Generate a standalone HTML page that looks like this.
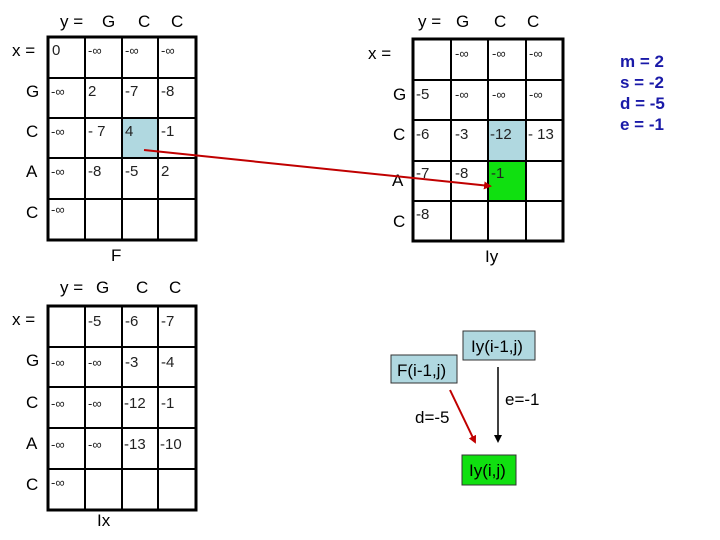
<!DOCTYPE html>
<html><head><meta charset="utf-8"><style>
html,body{margin:0;padding:0;background:#fff;}
svg{display:block;}
text{font-family:"Liberation Sans",sans-serif;}
.h{font-size:17px;fill:#000;}
.c{font-size:15px;fill:#222;}
.i{font-size:13px;fill:#222;}
.b{font-size:17px;font-weight:bold;fill:#1a1aa8;}
</style></head><body>
<svg width="720" height="540" viewBox="0 0 720 540" xmlns="http://www.w3.org/2000/svg">
<defs>
<marker id="ar" markerWidth="8" markerHeight="8" refX="6" refY="4" orient="auto" markerUnits="userSpaceOnUse"><path d="M0,0 L8,4 L0,8 z" fill="#c00000"/></marker>
<marker id="ab" markerWidth="8" markerHeight="8" refX="6" refY="4" orient="auto" markerUnits="userSpaceOnUse"><path d="M0,0 L8,4 L0,8 z" fill="#000"/></marker>
</defs>

<!-- Grid 1 (F) -->
<rect x="122" y="118" width="36" height="40" fill="#b0d8e0"/>
<g stroke="#000" stroke-width="2" fill="none">
<rect x="48" y="37" width="148" height="203" stroke-width="3"/>
<line x1="85" y1="37" x2="85" y2="240"/><line x1="122" y1="37" x2="122" y2="240"/><line x1="158" y1="37" x2="158" y2="240"/>
<line x1="48" y1="78" x2="196" y2="78"/><line x1="48" y1="118" x2="196" y2="118"/><line x1="48" y1="158" x2="196" y2="158"/><line x1="48" y1="199" x2="196" y2="199"/>
</g>
<text class="h" x="60" y="27">y =</text><text class="h" x="102" y="27">G</text><text class="h" x="138" y="27">C</text><text class="h" x="171" y="27">C</text>
<text class="h" x="12" y="56">x =</text>
<text class="h" x="26" y="97">G</text><text class="h" x="26" y="137">C</text><text class="h" x="26" y="177">A</text><text class="h" x="26" y="218">C</text>
<text class="c" x="52" y="55">0</text><text class="i" x="88" y="55">-∞</text><text class="i" x="125" y="55">-∞</text><text class="i" x="161" y="55">-∞</text>
<text class="i" x="51" y="96">-∞</text><text class="c" x="88" y="96">2</text><text class="c" x="125" y="96">-7</text><text class="c" x="161" y="96">-8</text>
<text class="i" x="51" y="136">-∞</text><text class="c" x="88" y="136">- 7</text><text class="c" x="125" y="136">4</text><text class="c" x="161" y="136">-1</text>
<text class="i" x="51" y="176">-∞</text><text class="c" x="88" y="176">-8</text><text class="c" x="125" y="176">-5</text><text class="c" x="161" y="176">2</text>
<text class="i" x="51" y="214">-∞</text>
<text class="h" x="111" y="261">F</text>

<!-- Grid 2 (Iy) -->
<rect x="488" y="120" width="38" height="41" fill="#b0d8e0"/>
<rect x="488" y="161" width="38" height="40" fill="#10e010"/>
<g stroke="#000" stroke-width="2" fill="none">
<rect x="413" y="39" width="150" height="202" stroke-width="3"/>
<line x1="451" y1="39" x2="451" y2="241"/><line x1="488" y1="39" x2="488" y2="241"/><line x1="526" y1="39" x2="526" y2="241"/>
<line x1="413" y1="80" x2="563" y2="80"/><line x1="413" y1="120" x2="563" y2="120"/><line x1="413" y1="161" x2="563" y2="161"/><line x1="413" y1="201" x2="563" y2="201"/>
</g>
<text class="h" x="418" y="27">y =</text><text class="h" x="456" y="27">G</text><text class="h" x="494" y="27">C</text><text class="h" x="527" y="27">C</text>
<text class="h" x="368" y="59">x =</text>
<text class="h" x="393" y="100">G</text><text class="h" x="393" y="140">C</text><text class="h" x="392" y="186">A</text><text class="h" x="393" y="227">C</text>
<text class="i" x="455" y="58">-∞</text><text class="i" x="492" y="58">-∞</text><text class="i" x="529" y="58">-∞</text>
<text class="c" x="416" y="99">-5</text><text class="i" x="455" y="99">-∞</text><text class="i" x="492" y="99">-∞</text><text class="i" x="529" y="99">-∞</text>
<text class="c" x="416" y="139">-6</text><text class="c" x="455" y="139">-3</text><text class="c" x="490" y="139">-12</text><text class="c" x="528" y="139">- 13</text>
<text class="c" x="416" y="178">-7</text><text class="c" x="455" y="178">-8</text><text class="c" x="491" y="178">-1</text>
<text class="c" x="416" y="219">-8</text>
<text class="h" x="485" y="262">Iy</text>

<!-- Grid 3 (Ix) -->
<g stroke="#000" stroke-width="2" fill="none">
<rect x="48" y="306" width="148" height="204" stroke-width="3"/>
<line x1="85" y1="306" x2="85" y2="510"/><line x1="122" y1="306" x2="122" y2="510"/><line x1="158" y1="306" x2="158" y2="510"/>
<line x1="48" y1="347" x2="196" y2="347"/><line x1="48" y1="387" x2="196" y2="387"/><line x1="48" y1="428" x2="196" y2="428"/><line x1="48" y1="469" x2="196" y2="469"/>
</g>
<text class="h" x="60" y="293">y =</text><text class="h" x="96" y="293">G</text><text class="h" x="136" y="293">C</text><text class="h" x="169" y="293">C</text>
<text class="h" x="12" y="325">x =</text>
<text class="h" x="26" y="366">G</text><text class="h" x="26" y="408">C</text><text class="h" x="26" y="449">A</text><text class="h" x="26" y="490">C</text>
<text class="c" x="88" y="326">-5</text><text class="c" x="125" y="326">-6</text><text class="c" x="161" y="326">-7</text>
<text class="i" x="51" y="367">-∞</text><text class="i" x="88" y="367">-∞</text><text class="c" x="125" y="367">-3</text><text class="c" x="161" y="367">-4</text>
<text class="i" x="51" y="408">-∞</text><text class="i" x="88" y="408">-∞</text><text class="c" x="124" y="408">-12</text><text class="c" x="161" y="408">-1</text>
<text class="i" x="51" y="449">-∞</text><text class="i" x="88" y="449">-∞</text><text class="c" x="124" y="449">-13</text><text class="c" x="160" y="449">-10</text>
<text class="i" x="51" y="487">-∞</text>
<text class="h" x="97" y="526">Ix</text>

<!-- Long red arrow -->
<line x1="144" y1="150" x2="490" y2="186" stroke="#c00000" stroke-width="2" marker-end="url(#ar)"/>

<!-- Recurrence diagram -->
<rect x="463" y="331" width="72" height="29" fill="#b0d8e0" stroke="#333" stroke-width="1"/>
<text class="h" x="471" y="352">Iy(i-1,j)</text>
<rect x="391" y="355" width="66" height="28" fill="#b0d8e0" stroke="#333" stroke-width="1"/>
<text class="h" x="397" y="376">F(i-1,j)</text>
<rect x="462" y="455" width="54" height="30" fill="#10e010" stroke="#333" stroke-width="1"/>
<text class="h" x="469" y="476">Iy(i,j)</text>
<line x1="450" y1="390" x2="475" y2="442" stroke="#c00000" stroke-width="2" marker-end="url(#ar)"/>
<line x1="498" y1="367" x2="498" y2="441" stroke="#000" stroke-width="1.5" marker-end="url(#ab)"/>
<text class="h" x="415" y="423">d=-5</text>
<text class="h" x="505" y="405">e=-1</text>

<!-- Params -->
<text class="b" x="620" y="67">m = 2</text>
<text class="b" x="620" y="88">s = -2</text>
<text class="b" x="620" y="109">d = -5</text>
<text class="b" x="620" y="130">e = -1</text>
</svg>
</body></html>
